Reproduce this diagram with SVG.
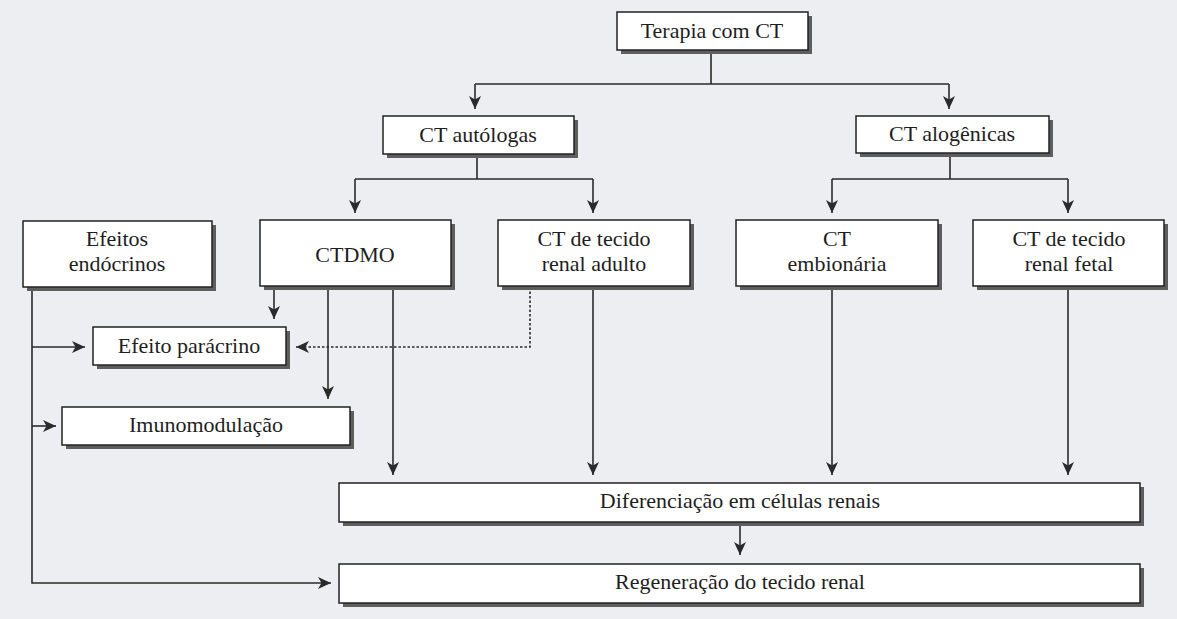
<svg xmlns="http://www.w3.org/2000/svg" width="1177" height="619" viewBox="0 0 1177 619">
<defs>
<marker id="arr" markerUnits="userSpaceOnUse" markerWidth="14" markerHeight="12" refX="13" refY="6" orient="auto">
<path d="M0,0 L13,6 L0,12 L3.5,6 Z" fill="#2a2a2a"/>
</marker>
<style>
.sh{fill:#5e5e5e;}
.bx{fill:#ffffff;stroke:#222;stroke-width:1.5;}
.t{font-family:"Liberation Serif","DejaVu Serif",serif;font-size:22px;fill:#1e1e1e;text-anchor:middle;}
.c{fill:none;stroke:#2a2a2a;stroke-width:1.6;}
.a{marker-end:url(#arr);}
.d{stroke-dasharray:2.5,2;}
</style>
</defs>
<rect x="0" y="0" width="1177" height="619" fill="#eceef2"/>

<g id="connectors">
<path class="c" d="M711 50 V84 M475 84 H949"/>
<path class="c a" d="M475 84 V109"/>
<path class="c a" d="M949 84 V109"/>
<path class="c" d="M477 154 V179 M355 179 H593"/>
<path class="c a" d="M355 179 V213"/>
<path class="c a" d="M593 179 V213"/>
<path class="c" d="M950 153 V179 M832 179 H1068"/>
<path class="c a" d="M832 179 V213"/>
<path class="c a" d="M1068 179 V213"/>
<path class="c a" d="M32 287 V583 H331"/>
<path class="c a" d="M32 347 H85"/>
<path class="c a" d="M32 426 H56"/>
<path class="c a" d="M274 286 V319"/>
<path class="c a" d="M328 286 V399"/>
<path class="c a" d="M393 286 V475"/>
<path class="c a d" d="M530 287 V347 H296"/>
<path class="c a" d="M593 286 V475"/>
<path class="c a" d="M832 286 V475"/>
<path class="c a" d="M1068 286 V475"/>
<path class="c a" d="M740 522 V555"/>
</g>

<g id="terapia">
<rect class="sh" x="621" y="16" width="191" height="38"/>
<rect class="bx" x="617" y="12" width="191" height="38"/>
<text class="t" x="712" y="38">Terapia com CT</text>
</g>
<g id="autologas">
<rect class="sh" x="387" y="120" width="191" height="38"/>
<rect class="bx" x="383" y="116" width="191" height="38"/>
<text class="t" x="478" y="142">CT autólogas</text>
</g>
<g id="alogenicas">
<rect class="sh" x="860" y="120" width="193" height="37"/>
<rect class="bx" x="856" y="116" width="193" height="37"/>
<text class="t" x="952" y="141">CT alogênicas</text>
</g>
<g id="efeitos-endocrinos">
<rect class="sh" x="27" y="225" width="189" height="66"/>
<rect class="bx" x="23" y="221" width="189" height="66"/>
<text class="t" x="117" y="246">Efeitos</text>
<text class="t" x="117" y="271">endócrinos</text>
</g>
<g id="ctdmo">
<rect class="sh" x="264" y="224" width="191" height="66"/>
<rect class="bx" x="260" y="220" width="191" height="66"/>
<text class="t" x="355" y="262">CTDMO</text>
</g>
<g id="ct-renal-adulto">
<rect class="sh" x="502" y="224" width="192" height="66"/>
<rect class="bx" x="498" y="220" width="192" height="66"/>
<text class="t" x="594" y="246">CT de tecido</text>
<text class="t" x="594" y="271">renal adulto</text>
</g>
<g id="ct-embionaria">
<rect class="sh" x="740" y="224" width="202" height="66"/>
<rect class="bx" x="736" y="220" width="202" height="66"/>
<text class="t" x="837" y="246">CT</text>
<text class="t" x="837" y="271">embionária</text>
</g>
<g id="ct-renal-fetal">
<rect class="sh" x="977" y="224" width="191" height="66"/>
<rect class="bx" x="973" y="220" width="191" height="66"/>
<text class="t" x="1069" y="246">CT de tecido</text>
<text class="t" x="1069" y="271">renal fetal</text>
</g>
<g id="efeito-paracrino">
<rect class="sh" x="97" y="331" width="193" height="38"/>
<rect class="bx" x="93" y="327" width="193" height="38"/>
<text class="t" x="189" y="353">Efeito parácrino</text>
</g>
<g id="imunomodulacao">
<rect class="sh" x="66" y="411" width="288" height="38"/>
<rect class="bx" x="62" y="407" width="288" height="38"/>
<text class="t" x="206" y="432">Imunomodulação</text>
</g>
<g id="diferenciacao">
<rect class="sh" x="343" y="487" width="801" height="39"/>
<rect class="bx" x="339" y="483" width="801" height="39"/>
<text class="t" x="740" y="508">Diferenciação em células renais</text>
</g>
<g id="regeneracao">
<rect class="sh" x="343" y="568" width="801" height="39"/>
<rect class="bx" x="339" y="564" width="801" height="39"/>
<text class="t" x="740" y="589">Regeneração do tecido renal</text>
</g>
</svg>
